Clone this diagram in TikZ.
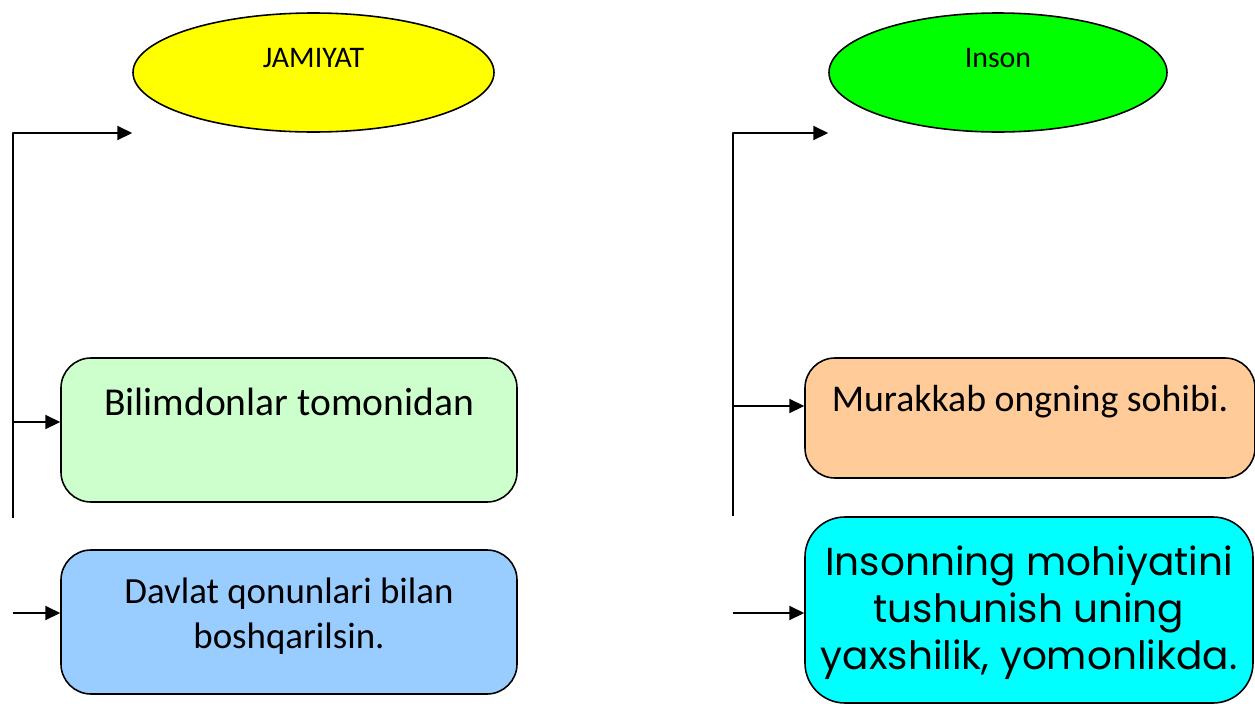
\documentclass[tikz,border=0pt]{standalone}
\usepackage{fontspec}
\setmainfont{Carlito}
\newfontfamily\gothfont{Poppins}
\usetikzlibrary{shapes.geometric,arrows.meta}
\definecolor{yel}{HTML}{FFFF00}
\definecolor{grn}{HTML}{00FF00}
\definecolor{mint}{HTML}{CCFFCC}
\definecolor{sky}{HTML}{99CCFF}
\definecolor{peach}{HTML}{FFCC99}
\definecolor{aqua}{HTML}{00FFFF}
\begin{document}
\begin{tikzpicture}[line join=round, >={Triangle[length=8.5pt,width=8pt]},
    oval/.style={draw, ellipse, line width=0.9pt, minimum height=2.38cm, inner sep=0pt},
    card/.style={draw, rounded corners=0.6cm, line width=0.9pt, align=center, inner sep=0pt},
    link/.style={line width=1.1pt}]
    \useasboundingbox (0,0) rectangle (25.1,-14.08);
    \node[oval, fill=yel, minimum width=7.22cm] (jam) at (6.27,-1.45) {};
    \node[font=\fontsize{17}{20}\selectfont] (jamtxt) at (6.27,-1.16) {JAMIYAT};
    \node[oval, fill=grn, minimum width=6.76cm] (ins) at (19.96,-1.45) {};
    \node[font=\fontsize{17}{20}\selectfont] (instxt) at (19.96,-1.16) {Inson};
    \node[card, fill=mint, minimum width=9.12cm, minimum height=2.88cm, text depth=32pt,
        font=\fontsize{22.5}{27}\selectfont] (bil) at (5.78,-8.6) {Bilimdonlar tomonidan};
    \node[card, fill=sky, minimum width=9.12cm, minimum height=2.88cm, text depth=10pt,
        font=\fontsize{21}{26}\selectfont] (dav) at (5.78,-12.44) {Davlat qonunlari bilan\\boshqarilsin.};
    \node[card, fill=peach, minimum width=9cm, minimum height=2.4cm, text depth=22pt,
        font=\fontsize{21.5}{25}\selectfont] (mur) at (20.6,-8.36) {Murakkab ongning sohibi.};
    \node[card, fill=aqua, rounded corners=0.8cm, minimum width=8.96cm, minimum height=3.72cm,
        text height=73pt, font=\gothfont\fontsize{22.2}{26.6}\selectfont] (moh) at (20.58,-12.2)
        {Insonning mohiyatini\\tushunish uning\\yaxshilik, yomonlikda.};
    \coordinate (lt) at (0.26,-2.66); \coordinate (lb) at (0.26,-10.36);
    \coordinate (rt) at (14.66,-2.66); \coordinate (rb) at (14.66,-10.32);
    \coordinate (la) at (0.26,-8.44); \coordinate (lc) at (0.26,-12.26);
    \coordinate (ra) at (14.66,-8.12); \coordinate (rc) at (14.66,-12.26);
    \draw[link, ->] (lb) -- (lt) -- (jam.west |- lt);
    \draw[link, ->] (rb) -- (rt) -- (ins.west |- rt);
    \draw[link, ->] (la) -- (bil.west |- la);
    \draw[link, ->] (lc) -- (dav.west |- lc);
    \draw[link, ->] (ra) -- (mur.west |- ra);
    \draw[link, ->] (rc) -- (moh.west |- rc);
\end{tikzpicture}
\end{document}
